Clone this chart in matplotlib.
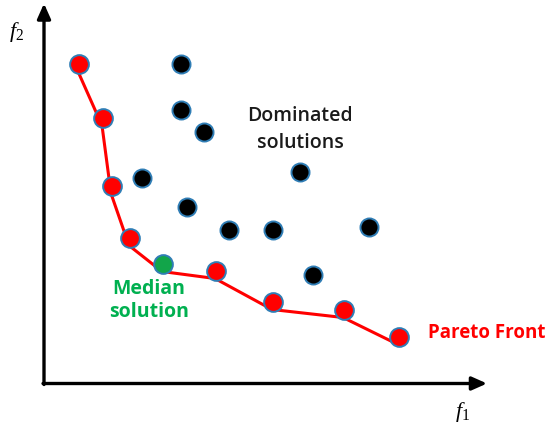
import matplotlib
matplotlib.use("Agg")
import matplotlib.pyplot as plt
from matplotlib import transforms

plt.rcParams['mathtext.fontset'] = 'custom'
plt.rcParams['mathtext.it'] = 'Liberation Serif:italic'
plt.rcParams['mathtext.rm'] = 'Liberation Serif'

# Pareto front (objective values f1, f2)
pareto_f1 = [35, 59, 68, 86, 119, 172, 229, 300, 355]
pareto_f2 = [320, 266, 198, 146, 120, 113, 82, 74, 47]
median_index = 4

# Dominated solutions
dom_f1 = [137, 137, 160, 98, 256, 143, 185, 229, 325, 269]
dom_f2 = [320, 274, 252, 206, 212, 177, 154, 154, 157, 109]

fig = plt.figure(figsize=(5.5, 4.31), dpi=100)
ax = fig.add_axes([0, 0, 1, 1])
ax.set_xlim(-44, 506)
ax.set_ylim(-46.5, 384.5)
ax.axis('off')

edge = '#2f7db5'

# front line (drawn slightly below marker centres, as in the reference)
line_tr = transforms.offset_copy(ax.transData, fig=fig, x=-1, y=-8, units='dots')
ax.plot(pareto_f1, pareto_f2, color='#ff0000', lw=2.2, transform=line_tr, zorder=2)

# dominated points
ax.plot(dom_f1, dom_f2, 'o', ms=13, mfc='black', mec=edge, mew=1.4, ls='none', zorder=3)

# pareto points
red_f1 = [v for i, v in enumerate(pareto_f1) if i != median_index]
red_f2 = [v for i, v in enumerate(pareto_f2) if i != median_index]
ax.plot(red_f1, red_f2, 'o', ms=13.5, mfc='#ff0000', mec=edge, mew=1.4, ls='none', zorder=4)
ax.plot([pareto_f1[median_index]], [pareto_f2[median_index]], 'o', ms=13.5,
        mfc='#12a54a', mec=edge, mew=1.4, ls='none', zorder=4)

# axes arrows
arrow_kw = dict(arrowstyle='-|>,head_length=0.9,head_width=0.4', color='black', lw=2.4,
                shrinkA=0, shrinkB=0)
ax.annotate('', xy=(443, 0), xytext=(-1, 0), arrowprops=arrow_kw)
ax.annotate('', xy=(0, 380), xytext=(0, -1), arrowprops=arrow_kw)

# labels
ax.text(419, -28, r'$f_{\mathit{1}}$', fontsize=16, ha='center', va='center')
ax.text(-27, 352, r'$f_{\mathit{2}}$', fontsize=16, ha='center', va='center')

font = ['Open Sans', 'DejaVu Sans']
ax.text(256, 255, 'Dominated\nsolutions', fontsize=14, family=font, fontweight='semibold',
        color='#1a1a1a', ha='center', va='center', linespacing=1.45)
ax.text(105, 84, 'Median\nsolution', fontsize=14, family=font, fontweight='bold',
        color='#00b050', ha='center', va='center', linespacing=1.15)
ax.text(443, 52, 'Pareto Front', fontsize=13.5, family=font, fontweight='bold',
        color='#ff0000', ha='center', va='center')

fig.savefig('out.png', dpi=100)
